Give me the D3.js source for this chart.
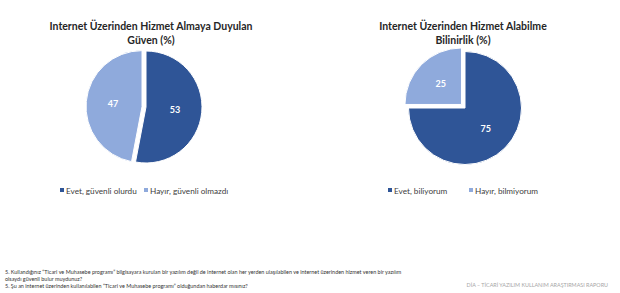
<!DOCTYPE html>
<html>
<head>
<meta charset="utf-8">
<script src="https://cdn.jsdelivr.net/npm/d3@7"></script>
<style>
  body { margin: 0; background: #fff; }
  svg { display: block; font-family: Lato, "Open Sans", sans-serif; }
</style>
</head>
<body>
<div id="content"></div>
<script>
// chart data
var titles1 = ["Internet Üzerinden Hizmet Almaya Duyulan", "Güven (%)"];
var labels1 = ["Evet, güvenli olurdu", "Hayır, güvenli olmazdı"];
var values1 = [53, 47];

var titles2 = ["Internet Üzerinden Hizmet Alabilme", "Bilinirlik (%)"];
var labels2 = ["Evet, biliyorum", "Hayır, bilmiyorum"];
var values2 = [75, 25];

var notes = [
    "5. Kullandığınız “Ticari ve Muhasebe programı” bilgisayara kurulan bir yazılım değil de internet olan her yerden ulaşılabilen ve internet üzerinden hizmet veren bir yazılım",
    "olsaydı güvenli bulur muydunuz?",
    "5. Şu an internet üzerinden kullanılabilen “Ticari ve Muhasebe programı” olduğundan haberdar mısınız?"
];
var footer = "DİA – TİCARİ YAZILIM KULLANIM ARAŞTIRMASI RAPORU";

var w = 620, h = 293;
var colors = ["#2f5597", "#8faadc"];
var textColor = "#404040";

var svg = d3.select("#content").append("svg")
    .attr("width", w)
    .attr("height", h);

function drawPie(cfg) {
    var g = svg.append("g");

    g.selectAll("text.title")
        .data(cfg.titles)
        .enter()
        .append("text")
        .attr("class", "title")
        .attr("x", cfg.titleX)
        .attr("y", function(d, i) { return 30 + i * 14; })
        .attr("text-anchor", "middle")
        .attr("font-size", 10.5)
        .attr("font-weight", "bold")
        .attr("fill", "#262626")
        .text(function(d) { return d; });

    var pie = d3.pie().sort(null).value(function(d) { return d; });
    var arcs = pie(cfg.values);
    var arc = d3.arc().innerRadius(0).outerRadius(cfg.r);
    var labelArc = d3.arc().innerRadius(cfg.r * 0.52).outerRadius(cfg.r * 0.52);

    var slices = g.append("g")
        .attr("transform", "translate(" + cfg.cx + "," + cfg.cy + ")")
        .selectAll("g")
        .data(arcs)
        .enter()
        .append("g")
        .attr("transform", function(d, i) {
            if (i === 0) return null;
            var a = (d.startAngle + d.endAngle) / 2;
            return "translate(" + (Math.sin(a) * cfg.explode) + "," + (-Math.cos(a) * cfg.explode) + ")";
        });

    slices.append("path")
        .attr("d", arc)
        .attr("fill", function(d, i) { return colors[i]; })
        .attr("stroke", "#fff")
        .attr("stroke-width", 1);

    slices.append("text")
        .attr("x", function(d) { return labelArc.centroid(d)[0]; })
        .attr("y", function(d) { return labelArc.centroid(d)[1]; })
        .attr("dy", "0.35em")
        .attr("text-anchor", "middle")
        .attr("font-size", 9)
        .attr("font-weight", "bold")
        .attr("fill", "#fff")
        .text(function(d) { return d.data; });

    var legend = g.selectAll("g.legend")
        .data(cfg.labels)
        .enter()
        .append("g")
        .attr("class", "legend")
        .attr("transform", function(d, i) { return "translate(" + cfg.legendX[i] + ",191)"; });

    legend.append("rect")
        .attr("x", 0)
        .attr("y", -3)
        .attr("width", 4)
        .attr("height", 4)
        .attr("fill", function(d, i) { return colors[i]; });

    legend.append("text")
        .attr("x", 6)
        .attr("y", 0)
        .attr("dy", "0.35em")
        .attr("font-size", 8.2)
        .attr("fill", textColor)
        .text(function(d) { return d; });
}

drawPie({titles: titles1, labels: labels1, values: values1,
         titleX: 151, cx: 146, cy: 107, r: 56, explode: 4, legendX: [60, 144]});
drawPie({titles: titles2, labels: labels2, values: values2,
         titleX: 463, cx: 465, cy: 108, r: 56.5, explode: 5, legendX: [388, 469]});

svg.append("g")
    .selectAll("text")
    .data(notes)
    .enter()
    .append("text")
    .attr("x", 5)
    .attr("y", function(d, i) { return 274 + i * 6.8; })
    .attr("font-size", 5.45)
    .attr("fill", "#333")
    .text(function(d) { return d; });

svg.append("text")
    .attr("x", 608)
    .attr("y", 287)
    .attr("text-anchor", "end")
    .attr("font-size", 5.4)
    .attr("fill", "#a6a6a6")
    .text(footer);
</script>
</body>
</html>
